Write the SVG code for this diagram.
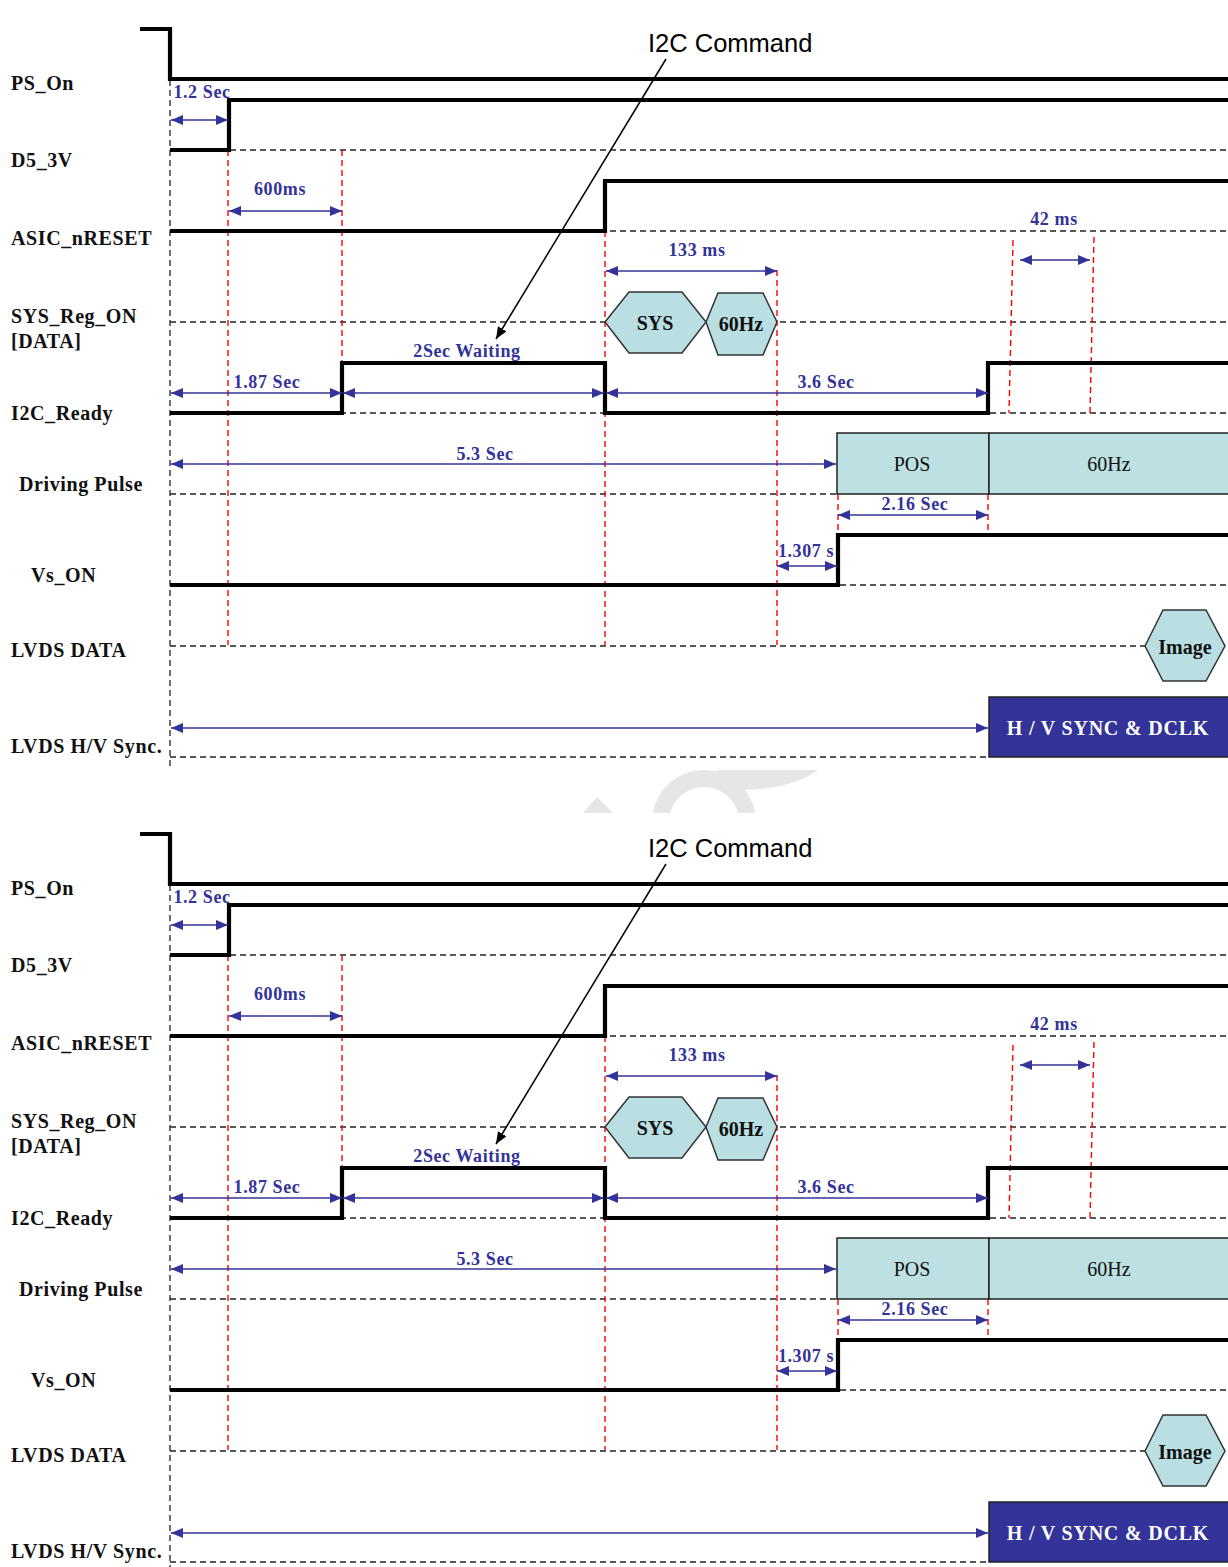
<svg xmlns="http://www.w3.org/2000/svg" width="1228" height="1567" viewBox="0 0 1228 1567">
<style>
.sig{fill:none;stroke:#000;stroke-width:4.2;stroke-linejoin:miter}
.grid{fill:none;stroke:#222;stroke-width:1.3;stroke-dasharray:6 4}
.red{fill:none;stroke:#f00;stroke-width:1.4;stroke-dasharray:6 4}
.dim{fill:none;stroke:#333399;stroke-width:1.6;marker-start:url(#ah);marker-end:url(#ah)}
.lbl{font-family:"Liberation Serif",serif;font-size:20px;font-weight:bold;fill:#111;letter-spacing:0.6px}
.bl{font-family:"Liberation Serif",serif;font-size:18px;font-weight:bold;fill:#333399;text-anchor:middle;letter-spacing:0.6px}
.hex{fill:#b9dfe2;stroke:#333;stroke-width:1.5}
.box{fill:#bde0e3;stroke:#222;stroke-width:1.5}
.in{font-family:"Liberation Serif",serif;font-size:20px;fill:#111;text-anchor:middle}
.inb{font-family:"Liberation Serif",serif;font-size:20px;font-weight:bold;fill:#111;text-anchor:middle}
.cmd{font-family:"Liberation Sans",Arial,sans-serif;font-size:25.5px;fill:#000}
.sync{fill:#333399;stroke:#222;stroke-width:1.5}
.synct{font-family:"Liberation Serif",serif;font-size:20px;font-weight:bold;fill:#fff;text-anchor:middle;letter-spacing:0.8px}
.ptr{fill:none;stroke:#000;stroke-width:1.5;marker-end:url(#ak)}
.wm{fill:#e6e6e6}
</style>
<defs>
<marker id="ah" viewBox="0 0 12 10" refX="12" refY="5" markerWidth="12" markerHeight="10" markerUnits="userSpaceOnUse" orient="auto-start-reverse"><path d="M0,0 L12,5 L0,10 z" fill="#333399"/></marker>
<marker id="ak" viewBox="0 0 12 10" refX="12" refY="5" markerWidth="12" markerHeight="10" markerUnits="userSpaceOnUse" orient="auto"><path d="M0,0 L12,5 L0,10 z" fill="#000"/></marker>
<clipPath id="wmclip"><rect x="560" y="770" width="300" height="43"/></clipPath>
</defs>
<rect width="1228" height="1567" fill="#fff"/>

<g id="watermark" clip-path="url(#wmclip)">
<path class="wm" fill-rule="evenodd" d="M652,822 a52,52 0 1,0 104,0 a52,52 0 1,0 -104,0 Z M669,822 a35,35 0 1,0 70,0 a35,35 0 1,0 -70,0 Z"/>
<path class="wm" d="M715,770 L818,770 Q800,783 770,788 L745,790 Z"/>
<polygon class="wm" points="583,813 597,797 613,813"/>
</g>

<!-- ================= TOP ================= -->
<g id="top">
<g id="t-grid">
<line class="grid" x1="170" y1="80" x2="170" y2="768"/>
<line class="grid" x1="170" y1="150" x2="1228" y2="150"/>
<line class="grid" x1="170" y1="231" x2="1228" y2="231"/>
<line class="grid" x1="170" y1="322" x2="1228" y2="322"/>
<line class="grid" x1="170" y1="413" x2="1228" y2="413"/>
<line class="grid" x1="170" y1="494" x2="837" y2="494"/>
<line class="grid" x1="170" y1="585" x2="1228" y2="585"/>
<line class="grid" x1="170" y1="646" x2="1145" y2="646"/>
<line class="grid" x1="170" y1="757" x2="989" y2="757"/>
</g>
<g id="t-red">
<line class="red" x1="228" y1="150" x2="228" y2="645"/>
<line class="red" x1="342" y1="150" x2="342" y2="413"/>
<line class="red" x1="605" y1="231" x2="605" y2="645"/>
<line class="red" x1="777" y1="270" x2="777" y2="645"/>
<line class="red" x1="838" y1="494" x2="838" y2="535"/>
<line class="red" x1="988" y1="494" x2="988" y2="530"/>
<line class="red" x1="1013" y1="240" x2="1009" y2="413"/>
<line class="red" x1="1094" y1="237" x2="1090" y2="413"/>
</g>
<g id="t-ps-on"><text class="lbl" x="11" y="90">PS_On</text><path class="sig" d="M140,29 H170 V79 H1228"/></g>
<g id="t-d5-3v"><text class="lbl" x="11" y="167">D5_3V</text><path class="sig" d="M170,150 H229 V100 H1228"/></g>
<g id="t-asic"><text class="lbl" x="11" y="245">ASIC_nRESET</text><path class="sig" d="M170,231 H605 V181 H1228"/></g>
<g id="t-sysreg"><text class="lbl" x="11" y="323">SYS_Reg_ON</text><text class="lbl" x="11" y="348">[DATA]</text>
<polygon class="hex" points="605,322 629,292 682,292 706,322 682,353 629,353"/>
<text class="inb" x="655" y="330">SYS</text>
<polygon class="hex" points="706,322 718,293 763,293 777,322 763,355 718,355"/>
<text class="inb" x="741" y="331">60Hz</text></g>
<g id="t-i2c"><text class="lbl" x="11" y="420">I2C_Ready</text><path class="sig" d="M170,413 H342 V363 H605 V413 H988 V363 H1228"/></g>
<g id="t-driving"><text class="lbl" x="19" y="491">Driving Pulse</text>
<rect class="box" x="837" y="433" width="152" height="61"/><text class="in" x="912" y="471">POS</text>
<rect class="box" x="989" y="433" width="241" height="61"/><text class="in" x="1109" y="471">60Hz</text></g>
<g id="t-vson"><text class="lbl" x="31" y="582">Vs_ON</text><path class="sig" d="M170,585 H838 V535 H1228"/></g>
<g id="t-lvdsdata"><text class="lbl" x="11" y="657">LVDS DATA</text>
<polygon class="hex" points="1145,646 1163,610 1206,610 1225,646 1206,681 1163,681"/>
<text class="inb" x="1185" y="654">Image</text></g>
<g id="t-lvdssync"><text class="lbl" x="11" y="753">LVDS H/V Sync.</text>
<rect class="sync" x="989" y="697" width="241" height="60"/><text class="synct" x="1108" y="735">H / V SYNC &amp; DCLK</text></g>
<g id="t-command"><text class="cmd" x="648" y="52">I2C Command</text><line class="ptr" x1="666" y1="59" x2="496" y2="339"/></g>
<g id="t-connectors">
<line class="dim" x1="171" y1="120" x2="228" y2="120"/><text class="bl" x="202" y="98">1.2 Sec</text>
<line class="dim" x1="229" y1="211" x2="342" y2="211"/><text class="bl" x="280" y="195">600ms</text>
<line class="dim" x1="606" y1="271" x2="777" y2="271"/><text class="bl" x="697" y="256">133 ms</text>
<line class="dim" x1="1020" y1="260" x2="1090" y2="260"/><text class="bl" x="1054" y="225">42 ms</text>
<line class="dim" x1="171" y1="393" x2="342" y2="393"/><text class="bl" x="267" y="388">1.87 Sec</text>
<line class="dim" x1="343" y1="393" x2="604" y2="393"/><text class="bl" x="467" y="357">2Sec Waiting</text>
<line class="dim" x1="606" y1="393" x2="988" y2="393"/><text class="bl" x="826" y="388">3.6 Sec</text>
<line class="dim" x1="171" y1="464" x2="836" y2="464"/><text class="bl" x="485" y="460">5.3 Sec</text>
<line class="dim" x1="838" y1="515" x2="988" y2="515"/><text class="bl" x="915" y="510">2.16 Sec</text>
<line class="dim" x1="777" y1="566" x2="837" y2="566"/><text class="bl" x="806" y="557">1.307 s</text>
<line class="dim" x1="171" y1="728" x2="988" y2="728"/>
</g>
</g>

<!-- ================= BOTTOM ================= -->
<g id="bottom" transform="translate(0,805)">
<g id="b-grid">
<line class="grid" x1="170" y1="80" x2="170" y2="762"/>
<line class="grid" x1="170" y1="150" x2="1228" y2="150"/>
<line class="grid" x1="170" y1="231" x2="1228" y2="231"/>
<line class="grid" x1="170" y1="322" x2="1228" y2="322"/>
<line class="grid" x1="170" y1="413" x2="1228" y2="413"/>
<line class="grid" x1="170" y1="494" x2="837" y2="494"/>
<line class="grid" x1="170" y1="585" x2="1228" y2="585"/>
<line class="grid" x1="170" y1="646" x2="1145" y2="646"/>
<line class="grid" x1="170" y1="757" x2="989" y2="757"/>
</g>
<g id="b-red">
<line class="red" x1="228" y1="150" x2="228" y2="645"/>
<line class="red" x1="342" y1="150" x2="342" y2="413"/>
<line class="red" x1="605" y1="231" x2="605" y2="645"/>
<line class="red" x1="777" y1="270" x2="777" y2="645"/>
<line class="red" x1="838" y1="494" x2="838" y2="535"/>
<line class="red" x1="988" y1="494" x2="988" y2="530"/>
<line class="red" x1="1013" y1="240" x2="1009" y2="413"/>
<line class="red" x1="1094" y1="237" x2="1090" y2="413"/>
</g>
<g id="b-ps-on"><text class="lbl" x="11" y="90">PS_On</text><path class="sig" d="M140,29 H170 V79 H1228"/></g>
<g id="b-d5-3v"><text class="lbl" x="11" y="167">D5_3V</text><path class="sig" d="M170,150 H229 V100 H1228"/></g>
<g id="b-asic"><text class="lbl" x="11" y="245">ASIC_nRESET</text><path class="sig" d="M170,231 H605 V181 H1228"/></g>
<g id="b-sysreg"><text class="lbl" x="11" y="323">SYS_Reg_ON</text><text class="lbl" x="11" y="348">[DATA]</text>
<polygon class="hex" points="605,322 629,292 682,292 706,322 682,353 629,353"/>
<text class="inb" x="655" y="330">SYS</text>
<polygon class="hex" points="706,322 718,293 763,293 777,322 763,355 718,355"/>
<text class="inb" x="741" y="331">60Hz</text></g>
<g id="b-i2c"><text class="lbl" x="11" y="420">I2C_Ready</text><path class="sig" d="M170,413 H342 V363 H605 V413 H988 V363 H1228"/></g>
<g id="b-driving"><text class="lbl" x="19" y="491">Driving Pulse</text>
<rect class="box" x="837" y="433" width="152" height="61"/><text class="in" x="912" y="471">POS</text>
<rect class="box" x="989" y="433" width="241" height="61"/><text class="in" x="1109" y="471">60Hz</text></g>
<g id="b-vson"><text class="lbl" x="31" y="582">Vs_ON</text><path class="sig" d="M170,585 H838 V535 H1228"/></g>
<g id="b-lvdsdata"><text class="lbl" x="11" y="657">LVDS DATA</text>
<polygon class="hex" points="1145,646 1163,610 1206,610 1225,646 1206,681 1163,681"/>
<text class="inb" x="1185" y="654">Image</text></g>
<g id="b-lvdssync"><text class="lbl" x="11" y="753">LVDS H/V Sync.</text>
<rect class="sync" x="989" y="697" width="241" height="60"/><text class="synct" x="1108" y="735">H / V SYNC &amp; DCLK</text></g>
<g id="b-command"><text class="cmd" x="648" y="52">I2C Command</text><line class="ptr" x1="666" y1="59" x2="496" y2="339"/></g>
<g id="b-connectors">
<line class="dim" x1="171" y1="120" x2="228" y2="120"/><text class="bl" x="202" y="98">1.2 Sec</text>
<line class="dim" x1="229" y1="211" x2="342" y2="211"/><text class="bl" x="280" y="195">600ms</text>
<line class="dim" x1="606" y1="271" x2="777" y2="271"/><text class="bl" x="697" y="256">133 ms</text>
<line class="dim" x1="1020" y1="260" x2="1090" y2="260"/><text class="bl" x="1054" y="225">42 ms</text>
<line class="dim" x1="171" y1="393" x2="342" y2="393"/><text class="bl" x="267" y="388">1.87 Sec</text>
<line class="dim" x1="343" y1="393" x2="604" y2="393"/><text class="bl" x="467" y="357">2Sec Waiting</text>
<line class="dim" x1="606" y1="393" x2="988" y2="393"/><text class="bl" x="826" y="388">3.6 Sec</text>
<line class="dim" x1="171" y1="464" x2="836" y2="464"/><text class="bl" x="485" y="460">5.3 Sec</text>
<line class="dim" x1="838" y1="515" x2="988" y2="515"/><text class="bl" x="915" y="510">2.16 Sec</text>
<line class="dim" x1="777" y1="566" x2="837" y2="566"/><text class="bl" x="806" y="557">1.307 s</text>
<line class="dim" x1="171" y1="728" x2="988" y2="728"/>
</g>
</g>
</svg>
